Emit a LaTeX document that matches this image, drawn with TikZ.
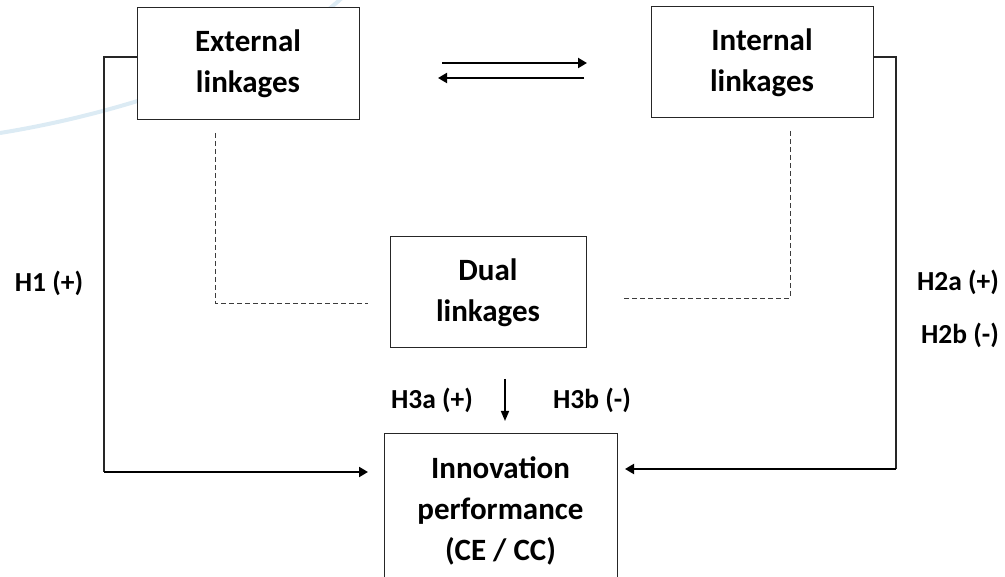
\documentclass[tikz,border=0pt]{standalone}
\usepackage{fontspec}
\setmainfont{Carlito}
\usetikzlibrary{arrows.meta,calc}
\definecolor{wm}{RGB}{220,235,244}
\definecolor{dashgray}{RGB}{60,60,60}
\tikzset{
  box/.style={draw=black!85, line width=1pt, fill=white, align=center, font=\fontsize{31}{41}\selectfont\bfseries, inner sep=0pt},
  lbl/.style={font=\fontsize{27.5}{30}\selectfont\bfseries, inner sep=0pt},
  conn/.style={draw=black!85, line width=1.3pt},
  arr/.style={draw=black, line width=2pt, -{Triangle[length=9pt,width=10pt]}},
  dsh/.style={draw=dashgray, line width=0.9pt, dash pattern=on 5pt off 3pt}
}
\begin{document}
\begin{tikzpicture}[x=1pt,y=-1pt]
\useasboundingbox (0,0) rectangle (1005,577);
\clip (0,0) rectangle (1005,577);
% faint background arc
\draw[wm, line width=4pt] (0,133) .. controls (130,112) and (275,62) .. (345,-5);
% boxes
\node[box, minimum width=222pt, minimum height=112pt] (ext) at (248,64) {External\\linkages};
\node[box, minimum width=222pt, minimum height=111pt] (int) at (762,62.5) {Internal\\linkages};
\node[box, minimum width=196pt, minimum height=111pt] (dual) at (488,292.5) {Dual\\linkages};
\node[box, minimum width=233pt, minimum height=154pt] (inn) at (500.5,511) {Innovation\\performance\\(CE / CC)};
% coordinates
\coordinate (eL) at (ext.west |- 0,57);
\coordinate (lc1) at (104,57);
\coordinate (lc2) at (104,472);
\coordinate (lend) at (368,472);
\coordinate (iR) at (int.east |- 0,57);
\coordinate (rc1) at (896,57);
\coordinate (rc2) at (896,469);
\coordinate (rend) at (625,469);
\coordinate (a1s) at (442,63);
\coordinate (a1e) at (587,63);
\coordinate (a2s) at (584,78);
\coordinate (a2e) at (438,78);
\coordinate (dL1) at (215,133);
\coordinate (dL2) at (215,303);
\coordinate (dL3) at (368,303);
\coordinate (dR1) at (790,131);
\coordinate (dR2) at (790,298);
\coordinate (dR3) at (624,298);
\coordinate (ds) at (505,379);
\coordinate (de) at (505,421);
% connectors
\draw[conn] (eL) -- (lc1) -- (lc2);
\draw[arr] (lc2) -- (lend);
\draw[conn] (iR) -- (rc1) -- (rc2);
\draw[arr] (rc2) -- (rend);
\draw[arr] (a1s) -- (a1e);
\draw[arr] (a2s) -- (a2e);
\draw[dsh] (dL1) -- (dL2) -- (dL3);
\draw[dsh] (dR1) -- (dR2) -- (dR3);
\draw[arr, line width=1.5pt, -{Triangle[length=10pt,width=8pt]}] (ds) -- (de);
% labels
\node[lbl] (h1) at (49,283) {H1 (+)};
\node[lbl] (h2a) at (958,282) {H2a (+)};
\node[lbl] (h2b) at (960,335) {H2b (-)};
\node[lbl] (h3a) at (432,400) {H3a (+)};
\node[lbl] (h3b) at (592,400) {H3b (-)};
\end{tikzpicture}
\end{document}
